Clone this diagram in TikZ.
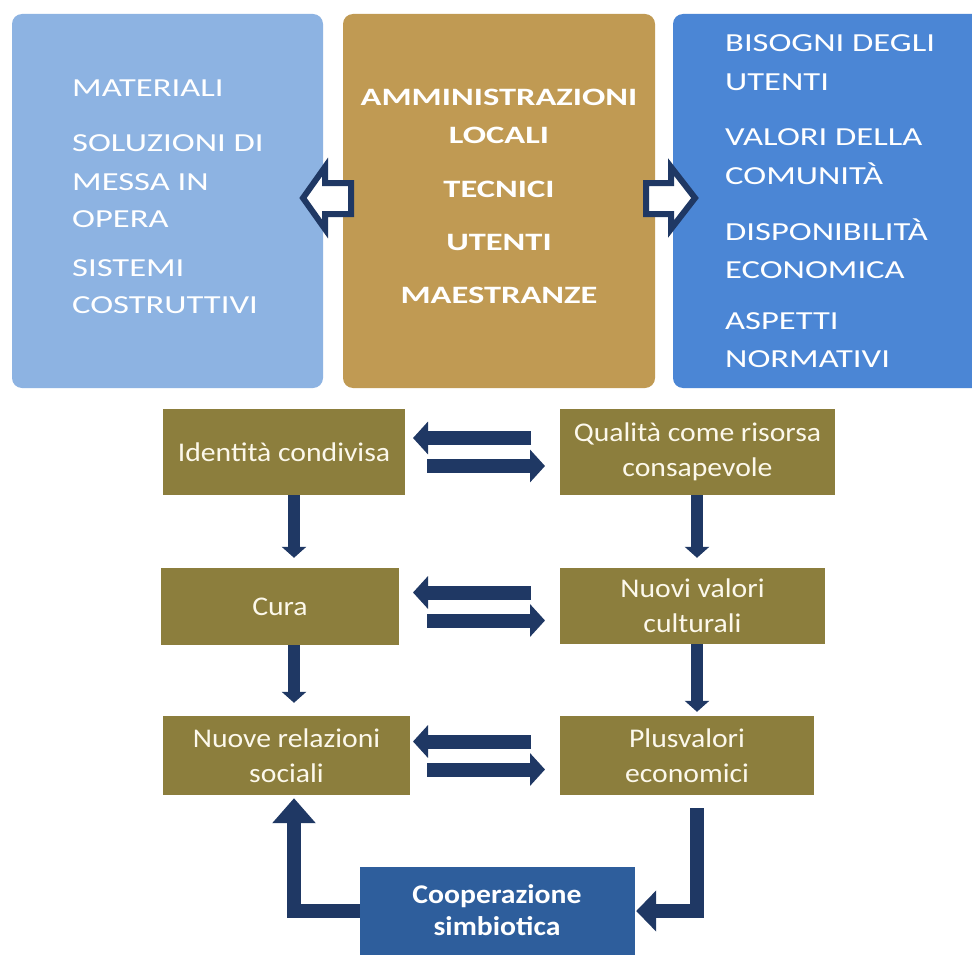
\documentclass[tikz,border=0pt]{standalone}
\usepackage{fontspec}
\setmainfont{Carlito}
\newfontfamily\topfont{Carlito}[FakeStretch=1.33]
\newfontfamily\topboldfont{Carlito}[FakeStretch=1.38]
\newfontfamily\lowfont{Carlito}[FakeStretch=1.1]
\usetikzlibrary{arrows.meta}
\definecolor{leftblue}{RGB}{141,179,226}
\definecolor{goldbox}{RGB}{192,154,83}
\definecolor{rightblue}{RGB}{75,134,213}
\definecolor{olivebox}{RGB}{140,126,61}
\definecolor{coopblue}{RGB}{46,94,156}
\definecolor{navy}{RGB}{31,56,100}
\definecolor{cream}{RGB}{252,248,235}
\begin{document}
\begin{tikzpicture}[x=1pt,y=-1pt,
  topbox/.style={rectangle, rounded corners=10pt, inner sep=0pt},
  toptext/.style={text=white, inner sep=0pt, font=\topfont\fontsize{26}{30}\selectfont},
  midtext/.style={text=white, inner sep=0pt, anchor=base, font=\topboldfont\bfseries\fontsize{25}{30}\selectfont},
  lowbox/.style={rectangle, fill=olivebox, inner sep=0pt, text=cream, align=center,
     font=\lowfont\fontsize{27}{35}\selectfont},
  coopbox/.style={rectangle, fill=coopblue, inner sep=0pt},
  cooptext/.style={text=white, inner sep=0pt, anchor=base, font=\lowfont\bfseries\fontsize{27}{32}\selectfont},
  hollow/.style={draw=navy, fill=white, line width=6pt, line join=miter},
  harrow/.style={draw=navy, line width=14pt, -{Triangle[width=32pt,length=15pt]}},
  varrow/.style={draw=navy, line width=12pt, -{Triangle[width=24pt,length=11pt]}},
  uarrow/.style={draw=navy, line width=14pt, line join=miter, -{Triangle[width=42pt,length=25pt]}},
  larrow/.style={draw=navy, line width=14pt, line join=miter, -{Triangle[width=40pt,length=20pt]}}
]
\useasboundingbox (0,0) rectangle (972,955);
\clip (0,0) rectangle (972,955);
\fill[white] (0,0) rectangle (972,955);

% top boxes
\node[topbox, fill=leftblue, minimum width=311pt, minimum height=374pt] (mat) at (167.5,201) {};
\node[topbox, fill=goldbox, minimum width=312pt, minimum height=374pt] (amm) at (499,201) {};
\node[topbox, fill=rightblue, minimum width=312pt, minimum height=374pt] (bis) at (829,201) {};

% left texts
\node[toptext, anchor=base west] (l1) at (72,97) {MATERIALI};
\node[toptext, anchor=base west] (l2) at (72,152) {SOLUZIONI DI};
\node[toptext, anchor=base west] (l3) at (72,190) {MESSA IN};
\node[toptext, anchor=base west] (l4) at (72,227) {OPERA};
\node[toptext, anchor=base west] (l5) at (72,276) {SISTEMI};
\node[toptext, anchor=base west] (l6) at (72,313) {COSTRUTTIVI};

% center texts
\node[midtext] (c1) at (499,106) {AMMINISTRAZIONI};
\node[midtext] (c2) at (499,143) {LOCALI};
\node[midtext] (c3) at (499,197) {TECNICI};
\node[midtext] (c4) at (499,250) {UTENTI};
\node[midtext] (c5) at (499,303) {MAESTRANZE};

% right texts
\node[toptext, anchor=base west] (r1) at (725,52) {BISOGNI DEGLI};
\node[toptext, anchor=base west] (r2) at (725,91) {UTENTI};
\node[toptext, anchor=base west] (r3) at (725,146) {VALORI DELLA};
\node[toptext, anchor=base west] (r4) at (725,185) {COMUNITÀ};
\node[toptext, anchor=base west] (r5) at (725,240) {DISPONIBILITÀ};
\node[toptext, anchor=base west] (r6) at (725,278) {ECONOMICA};
\node[toptext, anchor=base west] (r7) at (725,329) {ASPETTI};
\node[toptext, anchor=base west] (r8) at (725,367) {NORMATIVI};

% hollow block arrows
\draw[hollow] (303,198) -- (325,167) -- (325,183) -- (351,183) -- (351,214) -- (325,214) -- (325,229) -- cycle;
\draw[hollow] (695,198) -- (671,167) -- (671,183) -- (646,183) -- (646,214) -- (671,214) -- (671,229) -- cycle;

% lower boxes
\node[lowbox, minimum width=242pt, minimum height=86pt] (id) at (284,452) {Identità condivisa};
\node[lowbox, minimum width=238pt, minimum height=77pt] (cu) at (280,606.5) {Cura};
\node[lowbox, minimum width=247pt, minimum height=79pt] (nr) at (286.5,755.5) {Nuove relazioni\\sociali};
\node[lowbox, minimum width=275pt, minimum height=86pt] (qu) at (697.5,452) {Qualità come risorsa\\consapevole};
\node[lowbox, minimum width=265pt, minimum height=76pt] (nv) at (692.5,606) {Nuovi valori\\culturali};
\node[lowbox, minimum width=254pt, minimum height=79pt] (pl) at (687,755.5) {Plusvalori\\economici};
\node[coopbox, minimum width=275pt, minimum height=93pt] (co) at (497.5,913.5) {};
\node[cooptext] (co1) at (497,903) {Cooperazione};
\node[cooptext] (co2) at (497,935) {simbiotica};

% helper coordinates
\coordinate (xa) at (531,0);
\coordinate (xb) at (413,0);
\coordinate (xc) at (427,0);
\coordinate (xd) at (545,0);
\coordinate (xl) at (294,0);
\coordinate (xr) at (697,0);
\coordinate (yel) at (0,911);

% horizontal double arrows
\foreach \a/\b in {id/qu, cu/nv, nr/pl}{
  \draw[harrow] ([yshift=14pt]\a.east -| xa) -- ([yshift=14pt]\a.east -| xb);
  \draw[harrow] ([yshift=-14pt]\a.east -| xc) -- ([yshift=-14pt]\a.east -| xd);
}

% vertical arrows
\draw[varrow] (id.south -| xl) -- ([yshift=10pt]cu.north -| xl);
\draw[varrow] (qu.south -| xr) -- ([yshift=10pt]nv.north -| xr);
\draw[varrow] (cu.south -| xl) -- ([yshift=13pt]nr.north -| xl);
\draw[varrow] (nv.south -| xr) -- ([yshift=4pt]pl.north -| xr);

% elbow arrows
\draw[larrow] ([yshift=-13pt]pl.south -| xr) |- ([xshift=1pt]co.east |- yel);
\draw[uarrow] (co.west |- yel) -| ([yshift=-3pt]nr.south -| xl);
\end{tikzpicture}
\end{document}
